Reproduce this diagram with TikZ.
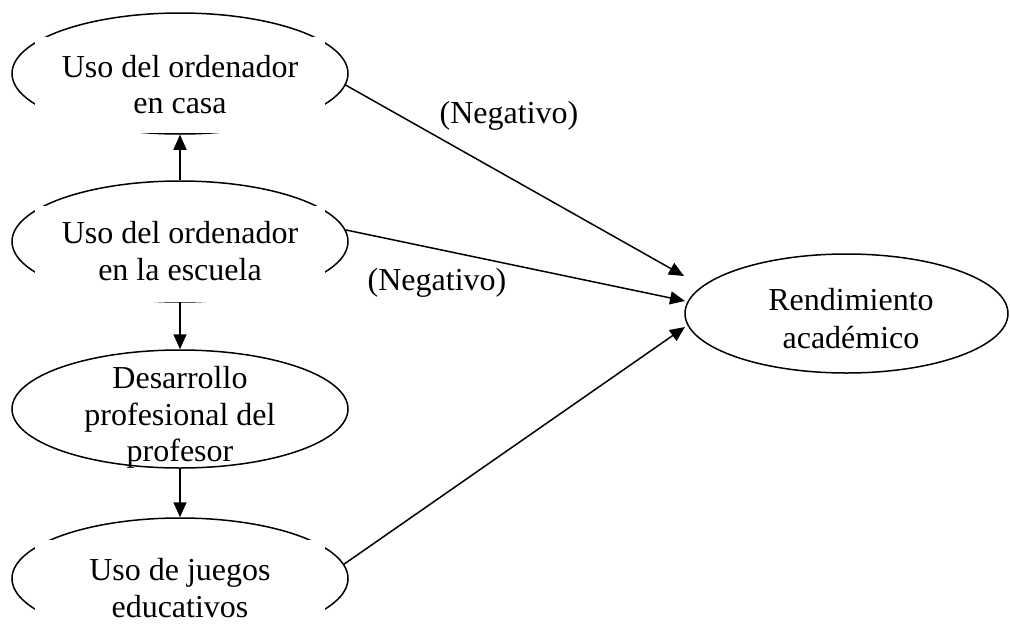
\documentclass[tikz,border=0pt]{standalone}
\usepackage{fontspec}
\setmainfont{Liberation Serif}
\usetikzlibrary{shapes.geometric,arrows.meta}
\begin{document}
\begin{tikzpicture}[x=1pt,y=-1pt,
  oval/.style={ellipse,draw,line width=1.5pt,minimum width=336pt,minimum height=121pt,inner sep=0pt},
  cover/.style={fill=white,draw=none,minimum width=290pt,minimum height=96pt,inner sep=0pt},
  txt/.style={anchor=base,inner sep=0pt,font=\fontsize{32}{37}\selectfont},
  arr/.style={line width=1.5pt,-{Triangle[length=15pt,width=13pt]}}]
\useasboundingbox (0,0) rectangle (1010,635);
% ellipses
\node[oval] (e1) at (180,73.5) {};
\node[oval] (e2) at (180,241.5) {};
\node[oval,minimum height=118pt] (e3) at (180,409) {};
\node[oval] (e4) at (180,578.5) {};
\node[oval,minimum width=323pt,minimum height=119pt] (e5) at (846.5,313.5) {};
% white text boxes covering parts of the ellipses
\node[cover] (c1) at (180,85) {};
\node[cover] (c2) at (180,253.5) {};
\node[cover,minimum height=100pt] (c4) at (180,590) {};
% texts
\node[txt] (t1a) at (180,77) {Uso del ordenador};
\node[txt] (t1b) at (180,113.5) {en casa};
\node[txt] (t2a) at (180,243) {Uso del ordenador};
\node[txt] (t2b) at (180,280) {en la escuela};
\node[txt] (t3a) at (180,388) {Desarrollo};
\node[txt] (t3b) at (180,425) {profesional del};
\node[txt] (t3c) at (180,461) {profesor};
\node[txt] (t4a) at (180,580) {Uso de juegos};
\node[txt] (t4b) at (180,617) {educativos};
\node[txt] (t5a) at (851,310) {Rendimiento};
\node[txt] (t5b) at (851,348) {académico};
\node[txt] (n1) at (509,123) {(Negativo)};
\node[txt] (n2) at (437,290) {(Negativo)};
% connectors
\coordinate (p1) at (684,276);
\coordinate (p2) at (685,301);
\coordinate (p3) at (685,327);
\draw[arr] (e2.north) -- (e1.south);
\draw[arr] (e2.south) -- (e3.north);
\draw[arr] (e3.south) -- (e4.north);
\draw[arr] (e1.-4) -- (p1);
\draw[arr] (e2.4) -- (p2);
\draw[arr] (e4.5) -- (p3);
\end{tikzpicture}
\end{document}
